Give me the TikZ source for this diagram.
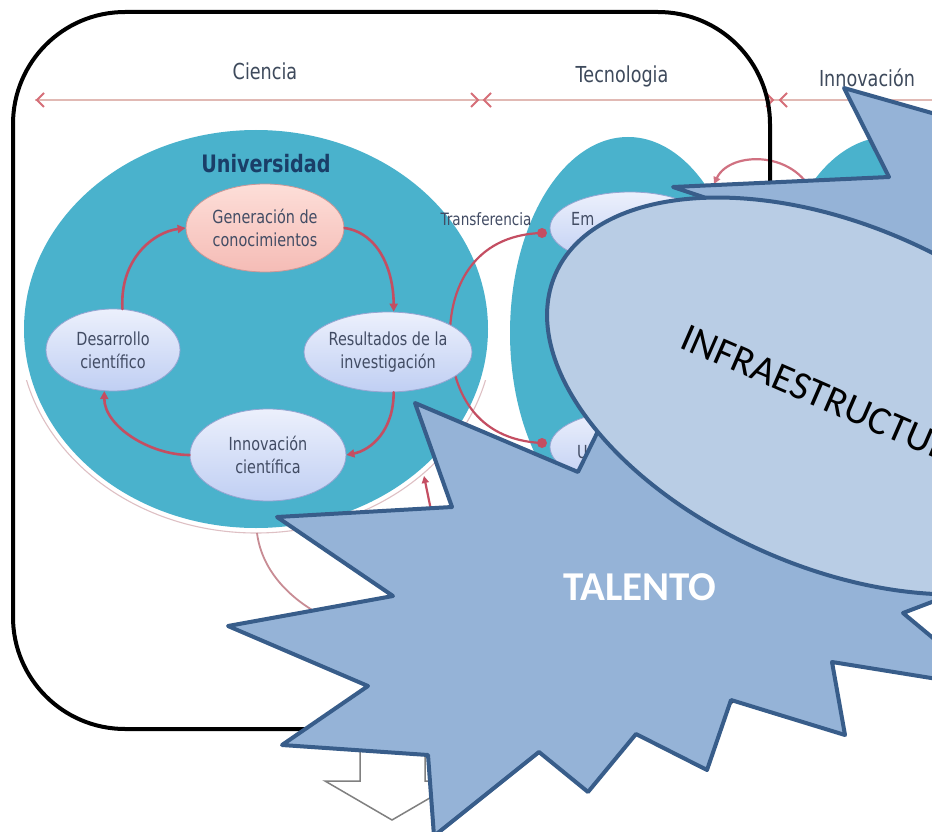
\documentclass[tikz,border=0pt]{standalone}
\usepackage{fontspec}
\setmainfont{Carlito}
\newfontfamily\bgfont[FakeStretch=0.8]{DejaVu Sans}
\usetikzlibrary{shapes.geometric,arrows.meta}
\definecolor{teal1}{RGB}{74,178,204}
\definecolor{lavtop}{RGB}{236,240,252}
\definecolor{lavbot}{RGB}{192,207,243}
\definecolor{lavline}{RGB}{150,165,210}
\definecolor{pinktop}{RGB}{253,222,216}
\definecolor{pinkbot}{RGB}{245,188,182}
\definecolor{pinkline}{RGB}{205,150,150}
\definecolor{redarr}{RGB}{196,78,98}
\definecolor{bgtext}{RGB}{66,76,100}
\definecolor{headtext}{RGB}{62,74,92}
\definecolor{navy}{RGB}{26,62,104}
\definecolor{starfill}{RGB}{149,179,215}
\definecolor{starline}{RGB}{56,93,138}
\definecolor{ellfill}{RGB}{185,205,229}
\definecolor{linepink}{RGB}{225,185,180}
\definecolor{markred}{RGB}{214,110,120}
\definecolor{halo}{RGB}{222,192,196}
\definecolor{arcgray}{RGB}{200,140,148}
\definecolor{arrgray}{RGB}{128,128,128}
\tikzset{
  smallell/.style={ellipse, inner sep=0pt, draw=lavline, line width=0.8pt,
    top color=lavtop, bottom color=lavbot, text=bgtext, align=center,
    font=\bgfont\fontsize{18}{23}\selectfont},
  cycarrow/.style={draw=redarr, line width=2.6pt, line cap=round,
    -{Triangle[length=8pt,width=8pt]}},
  transarc/.style={draw=redarr, line width=2.2pt},
  heading/.style={anchor=base, text=headtext, font=\bgfont\fontsize{22}{26}\selectfont},
  marker/.style={draw=markred, line width=2pt},
  starshape/.style={fill=starfill, draw=starline, line width=4pt, line join=round},
}
\begin{document}
\begin{tikzpicture}[x=1pt,y=-1pt]
\useasboundingbox (0,0) rectangle (932,832);
\clip (0,0) rectangle (932,832);
\fill[white] (0,0) rectangle (932,832);

% ---------- background diagram ----------
\fill[teal1] (256,329) ellipse [x radius=232, y radius=199];
\fill[teal1] (628,333) ellipse [x radius=118, y radius=196];
\fill[teal1] (888,333) ellipse [x radius=118, y radius=196];
\begin{scope}
  \clip (0,380) rectangle (500,560);
  \draw[halo, line width=1.1pt] (256,329) ellipse [x radius=237, y radius=204];
\end{scope}

% transfer arc (behind Resultados)
\coordinate (tr1) at (542,233);
\coordinate (tr2) at (542,443);
\draw[transarc] (tr1) .. controls (472,235) and (449,290) .. (450,338)
  .. controls (451,390) and (475,440) .. (tr2);
\fill[redarr] (tr1) circle (5pt);
\fill[redarr] (tr2) circle (5pt);

% ellipses of the Universidad cycle
\node[smallell, top color=pinktop, bottom color=pinkbot, draw=pinkline,
  minimum width=158pt, minimum height=88pt] (gen) at (265,228) {Generación de\\conocimientos};
\node[smallell, minimum width=134pt, minimum height=82pt] (des) at (113,350) {Desarrollo\\científico};
\node[smallell, minimum width=150pt, minimum height=80pt] (res) at (388,352) {Resultados de la\\investigación};
\node[smallell, minimum width=156pt, minimum height=92pt] (inn) at (268,455) {Innovación\\científica};

% ellipses of the Tecnología circle
\node[smallell, minimum width=160pt, minimum height=72pt] (emp) at (630,228) {};
\node[smallell, minimum width=160pt, minimum height=72pt] (uni2) at (630,447) {};
\node[anchor=west, text=bgtext, font=\bgfont\fontsize{18}{23}\selectfont, inner sep=0pt] (emtext) at (571,219) {Em};
\node[anchor=west, text=bgtext, font=\bgfont\fontsize{18}{23}\selectfont, inner sep=0pt] (utext) at (577,452) {U};

% cycle arrows
\draw[cycarrow] (des.77) .. controls +(-3,-50) and +(-32,4) .. (gen.west);
\draw[cycarrow] (gen.east) .. controls +(35,5) and +(0,-40) .. (res.82);
\draw[cycarrow] (res.278) .. controls +(0,38) and +(25,-5) .. (inn.east);
\draw[cycarrow] (inn.west) .. controls +(-40,0) and +(0,35) .. (des.258);

% other background arrows
\coordinate (b1) at (257,533);
\coordinate (b2) at (335,622);
\draw[draw=arcgray, line width=1.8pt] (b1) .. controls (262,572) and (292,603) .. (b2);
\coordinate (u1) at (433,520);
\coordinate (u2) at (424,476);
\draw[draw=redarr, line width=2.2pt, -{Triangle[length=7pt,width=7pt]}] (u1) -- (u2);
\coordinate (t1) at (815,200);
\coordinate (t2) at (714,184);
\draw[draw=redarr!80, line width=2.2pt, -{Triangle[length=7pt,width=7pt]}]
  (t1) .. controls (800,150) and (730,150) .. (t2);

% texts of the background
\node[anchor=base, text=navy, font=\bgfont\bfseries\fontsize{24}{28}\selectfont] (univ) at (266,172) {Universidad};
\node[anchor=base, text=bgtext, font=\bgfont\fontsize{17}{20}\selectfont] (transf) at (486,225) {Transferencia};

% top scale line
\coordinate (l0) at (35,100);
\coordinate (l1) at (940,100);
\draw[linepink, line width=1.6pt] (l0) -- (l1);
\draw[marker] (44,93) -- (37,100) -- (44,107);
\draw[marker] (471,93) -- (478,100) -- (471,107);
\draw[marker] (491,93) -- (484,100) -- (491,107);
\draw[marker] (766,93) -- (773,100) -- (766,107);
\draw[marker] (787,93) -- (780,100) -- (787,107);
\node[heading] (cien) at (265,80) {Ciencia};
\node[heading] (tecn) at (622,83) {Tecnologia};
\node[heading] (innov) at (867,87) {Innovación};

% ---------- overlays ----------
\draw[black, line width=4pt, rounded corners=112pt] (13,12) rectangle (770,729);

\draw[arrgray, fill=white, line width=1.5pt, line join=miter]
  (360,745) -- (360,781) -- (325,781) -- (392,820) -- (459,781) -- (425,781) -- (425,745) -- cycle;

\draw[starshape]
  (415,403) -- (452,507) -- (277,517) -- (393,596) -- (228,626) -- (368,686)
  -- (282,745) -- (428,755) -- (434,836) -- (539,752) -- (588,792) -- (636,734)
  -- (707,770) -- (731,700) -- (845,735) -- (832,662) -- (993,688) -- (903,613)
  -- (1000,576) -- (960,520) -- (1050,400) -- (960,300) -- (1050,200) -- (960,121)
  -- (844,88) -- (889,177) -- (673,187) -- (760,216) -- (645,335) -- (578,472) -- cycle;

\node[ellipse, fill=ellfill, draw=starline, line width=4pt, inner sep=0pt,
  minimum width=610pt, minimum height=342pt, rotate=-23.5] (infra) at (835,396) {};
\node[rotate=-23.5, font=\fontsize{40}{44}\selectfont, text=black] (infratext) at (828,398) {INFRAESTRUCTURA};
\node[font=\bfseries\fontsize{41}{46}\selectfont, text=white] (talento) at (640,587) {TALENTO};
\end{tikzpicture}
\end{document}
